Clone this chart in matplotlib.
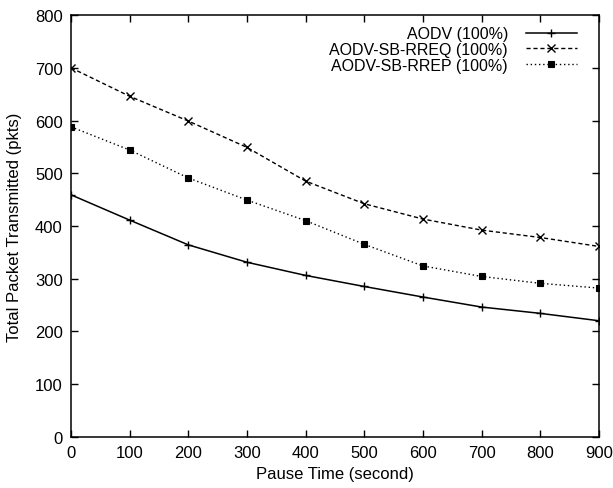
import matplotlib
matplotlib.use("Agg")
import matplotlib.pyplot as plt

plt.rcParams['font.family'] = ['Liberation Sans', 'DejaVu Sans']

pause_time = [0, 100, 200, 300, 400, 500, 600, 700, 800, 900]
aodv = [459, 411, 364, 331, 306, 285, 265, 246, 234, 220]
aodv_sb_rreq = [700, 646, 599, 549, 485, 442, 413, 392, 378, 361]
aodv_sb_rrep = [588, 544, 491, 449, 410, 365, 324, 304, 291, 282]

fs = 12

fig = plt.figure(figsize=(6.13, 4.89), dpi=100)
ax = fig.add_axes([0.1158, 0.105, 0.8612, 0.862])

ax.plot(pause_time, aodv, color='black', lw=1.1, ls='-', marker='+',
        ms=6, mew=1.0, label='AODV (100%)')
ax.plot(pause_time, aodv_sb_rreq, color='black', lw=1.0, ls=(0, (3, 2)),
        marker='x', ms=5.5, mew=1.0, label='AODV-SB-RREQ (100%)')
ax.plot(pause_time, aodv_sb_rrep, color='black', lw=1.0, ls=(0, (1, 2)),
        marker='s', ms=4, mew=0.8, label='AODV-SB-RREP (100%)')

ax.set_xlim(0, 900)
ax.set_ylim(0, 800)
ax.set_xticks(range(0, 901, 100))
ax.set_yticks(range(0, 801, 100))
ax.tick_params(direction='in', top=True, right=True, length=5, width=1,
               labelsize=fs, colors='black', pad=6)
for s in ax.spines.values():
    s.set_linewidth(1.1)

ax.set_xlabel('Pause Time (second)', fontsize=fs, labelpad=4)
ax.set_ylabel('Total Packet Transmitted (pkts)', fontsize=fs, labelpad=9)

ax.legend(loc='upper right', bbox_to_anchor=(0.958, 0.974), frameon=False,
          markerfirst=False, fontsize=11.5, handlelength=3.2, handletextpad=1.1,
          labelspacing=0.05, borderpad=0, borderaxespad=0)

fig.savefig('out.png', dpi=100)
